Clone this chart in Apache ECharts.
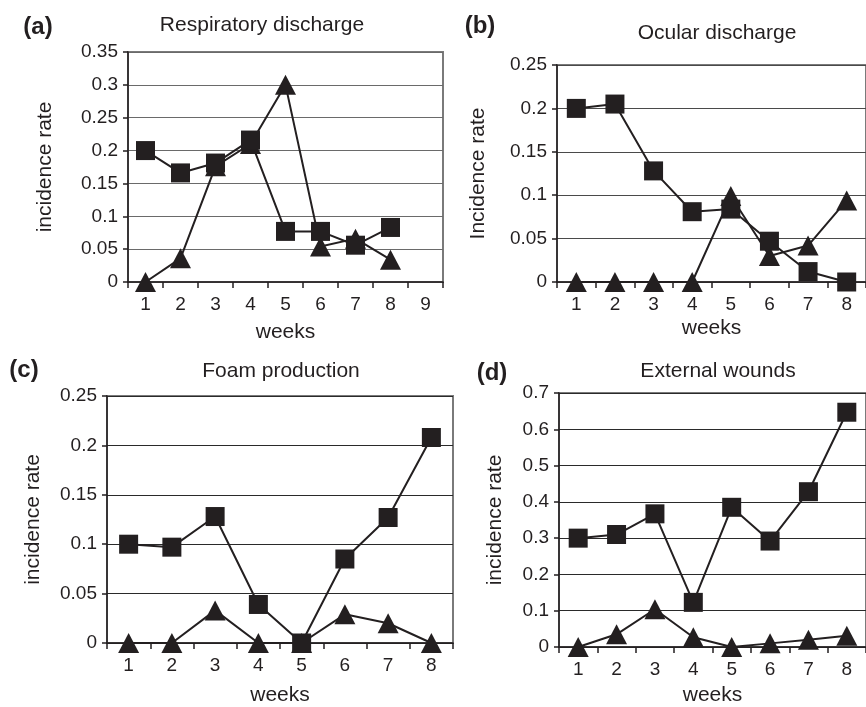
<!DOCTYPE html>
<html>
<head>
<meta charset="utf-8">
<script src="https://cdn.jsdelivr.net/npm/echarts@6/dist/echarts.min.js"></script>
<style>
  html, body { margin: 0; padding: 0; background: #fff; }
  #main { width: 866px; height: 707px; }
</style>
</head>
<body>
<div id="main"></div>
<script>
// weeks on the x axis
const weeksA = ['1', '2', '3', '4', '5', '6', '7', '8', '9'];
const weeks = ['1', '2', '3', '4', '5', '6', '7', '8'];

// (a) respiratory discharge
const respSquare = [0.2, 0.166, 0.181, 0.216, 0.077, 0.077, 0.056, 0.083];
const respTriangle = [0, 0.036, 0.176, 0.21, 0.3, 0.054, 0.066, 0.034];
// (b) ocular discharge
const ocularSquare = [0.2, 0.205, 0.128, 0.081, 0.084, 0.047, 0.012, 0];
const ocularTriangle = [0, 0, 0, 0, 0.099, 0.03, 0.042, 0.094];
// (c) foam production
const foamSquare = [0.1, 0.097, 0.128, 0.039, 0, 0.085, 0.127, 0.208];
const foamTriangle = [0, 0, 0.033, 0, 0, 0.029, 0.02, 0];
// (d) external wounds
const woundSquare = [0.3, 0.31, 0.367, 0.123, 0.385, 0.292, 0.428, 0.647];
const woundTriangle = [0, 0.035, 0.104, 0.027, 0, 0.01, 0.02, 0.031];

// y axis ranges
const yMax = [0.35, 0.25, 0.25, 0.7];
const yStep = [0.05, 0.05, 0.05, 0.1];

const ink = '#231f20';
const font = 'Liberation Sans, Arial, sans-serif';

const panels = [
  { letter: '(a)', title: 'Respiratory discharge', yName: 'incidence rate', cats: weeksA,
    sq: respSquare, tri: respTriangle,
    grid: { left: 128, top: 52, width: 315, height: 230 },
    titlePos: [257, 10], letterPos: [33, 10], yGap: 72, xGap: 40, split: '#6a6a6a' },
  { letter: '(b)', title: 'Ocular discharge', yName: 'Incidence rate', cats: weeks,
    sq: ocularSquare, tri: ocularTriangle,
    grid: { left: 557, top: 65, width: 320, height: 217 },
    titlePos: [712, 18], letterPos: [475, 9], yGap: 68, xGap: 36, split: '#4a4a4a' },
  { letter: '(c)', title: 'Foam production', yName: 'incidence rate', cats: weeks,
    sq: foamSquare, tri: foamTriangle,
    grid: { left: 107, top: 396, width: 346, height: 249 },
    titlePos: [276, 356], letterPos: [19, 353], yGap: 63, xGap: 42, split: '#2a2a2a' },
  { letter: '(d)', title: 'External wounds', yName: 'incidence rate', cats: weeks,
    sq: woundSquare, tri: woundTriangle,
    grid: { left: 559, top: 393, width: 318, height: 256 },
    titlePos: [713, 356], letterPos: [487, 356], yGap: 53, xGap: 38, split: '#2a2a2a' }
];

const titles = [], grids = [], xAxes = [], yAxes = [], series = [];

panels.forEach((p, i) => {
  titles.push({
    text: p.title, left: p.titlePos[0], top: p.titlePos[1], textAlign: 'center',
    textStyle: { fontFamily: font, fontSize: 21, fontWeight: 'normal', color: ink }
  });
  titles.push({
    text: p.letter, left: p.letterPos[0], top: p.letterPos[1], textAlign: 'center',
    textStyle: { fontFamily: font, fontSize: 24, fontWeight: 'bold', color: ink }
  });
  grids.push(Object.assign({ show: true, borderColor: '#7a7a7a', borderWidth: 2, backgroundColor: 'transparent' }, p.grid));
  xAxes.push({
    type: 'category', gridIndex: i, data: p.cats, boundaryGap: true,
    name: 'weeks', nameLocation: 'middle', nameGap: p.xGap,
    nameTextStyle: { fontFamily: font, fontSize: 21, color: ink },
    axisLine: { lineStyle: { color: ink, width: 1.5 } },
    axisTick: { show: true, length: 6, inside: false, lineStyle: { color: ink, width: 1.5 } },
    axisLabel: { fontFamily: font, fontSize: 19, color: ink, margin: 13 },
    splitLine: { show: false }
  });
  yAxes.push({
    type: 'value', gridIndex: i, min: 0, max: yMax[i], interval: yStep[i],
    name: p.yName, nameLocation: 'middle', nameGap: p.yGap, nameRotate: 90,
    nameTextStyle: { fontFamily: font, fontSize: 21, color: ink },
    axisLine: { show: true, lineStyle: { color: ink, width: 1.5 } },
    axisTick: { show: true, length: 5, lineStyle: { color: ink, width: 1.5 } },
    axisLabel: { fontFamily: font, fontSize: 19, color: ink, margin: 10 },
    splitLine: { show: true, lineStyle: { color: p.split, width: 1 } }
  });
  series.push({
    type: 'line', xAxisIndex: i, yAxisIndex: i, data: p.tri,
    symbol: 'triangle', symbolSize: [21, 20],
    lineStyle: { color: ink, width: 2 }, itemStyle: { color: ink },
    animation: false, silent: true
  });
  series.push({
    type: 'line', xAxisIndex: i, yAxisIndex: i, data: p.sq,
    symbol: 'rect', symbolSize: 19,
    lineStyle: { color: ink, width: 2 }, itemStyle: { color: ink },
    animation: false, silent: true
  });
});

const chart = echarts.init(document.getElementById('main'), null, { renderer: 'canvas' });
chart.setOption({
  backgroundColor: '#fff',
  animation: false,
  title: titles,
  grid: grids,
  xAxis: xAxes,
  yAxis: yAxes,
  series: series
});
</script>
</body>
</html>
